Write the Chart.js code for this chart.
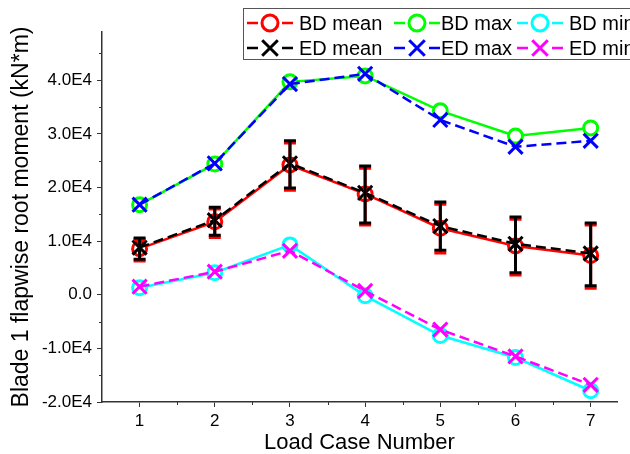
<!DOCTYPE html>
<html lang="en">
  <head>
    <meta charset="UTF-8" />
    <title>Blade 1 flapwise root moment</title>
    <script src="https://cdn.jsdelivr.net/npm/chart.js"></script>
    <style>
      html,
      body {
        margin: 0;
        padding: 0;
        background: #fff;
      }
    </style>
  </head>
  <body>
    <canvas id="chartCanvas" width="630" height="454"></canvas>

    <script>
      // load cases and series (kN*m)
      const cases = [1, 2, 3, 4, 5, 6, 7];

      const bdMean = [8600, 13600, 24200, 18800, 12400, 9100, 7300];
      const bdMax = [16800, 24400, 39700, 40800, 34300, 29600, 31100];
      const bdMin = [1300, 4100, 9300, -200, -7600, -11700, -17900];

      const edMean = [8800, 13900, 24500, 19000, 12800, 9500, 7700];
      const edMax = [16800, 24500, 39300, 41200, 32600, 27600, 28700];
      const edMin = [1500, 4300, 8200, 700, -6500, -11500, -16800];

      // error bar ends on the mean curves
      const bdErrLow = [6300, 10700, 19500, 13000, 7800, 3700, 1200];
      const bdErrHigh = [10300, 16000, 28300, 23600, 16900, 14100, 13000];
      const edErrLow = [6600, 11100, 19900, 13400, 8300, 4100, 1700];
      const edErrHigh = [10600, 16300, 28700, 24000, 17300, 14500, 13400];

      // tick positions
      const yTicks = [-20000, -10000, 0, 10000, 20000, 30000, 40000];
      const yMinorTicks = [-15000, -5000, 5000, 15000, 25000, 35000, 45000];
      const xMinorTicks = [1.5, 2.5, 3.5, 4.5, 5.5, 6.5];

      const FONT = "'Liberation Sans', Arial, sans-serif";
      Chart.defaults.font.family = FONT;
      Chart.defaults.color = "#000";

      function series(label, data, color, marker, dashed, order) {
        const isCircle = marker === "circle";
        return {
          label,
          data: cases.map((c, i) => ({ x: c, y: data[i] })),
          borderColor: color,
          borderWidth: 2.5,
          borderDash: dashed ? [10, 5] : [],
          pointStyle: marker,
          pointRadius: isCircle ? 7 : 10,
          pointBorderWidth: 3,
          pointBorderColor: color,
          pointBackgroundColor: "#fff",
          tension: 0,
          fill: false,
          order,
        };
      }

      // minor ticks on both axes
      const minorTicks = {
        id: "minorTicks",
        afterDraw(chart) {
          const { ctx, chartArea, scales } = chart;
          ctx.save();
          ctx.strokeStyle = "#333";
          ctx.lineWidth = 1;
          ctx.beginPath();
          xMinorTicks.forEach((v) => {
            const px = Math.round(scales.x.getPixelForValue(v)) + 0.5;
            ctx.moveTo(px, chartArea.bottom);
            ctx.lineTo(px, chartArea.bottom + 3);
          });
          yMinorTicks.forEach((v) => {
            const py = Math.round(scales.y.getPixelForValue(v)) + 0.5;
            ctx.moveTo(chartArea.left, py);
            ctx.lineTo(chartArea.left - 3, py);
          });
          ctx.stroke();
          ctx.restore();
        },
      };

      // vertical error bars on the two mean curves
      const errorBars = {
        id: "errorBars",
        afterDatasetsDraw(chart) {
          const { ctx, scales } = chart;
          ctx.save();
          ctx.lineWidth = 3;
          ctx.setLineDash([]);
          [
            [bdErrLow, bdErrHigh, "#ff0000"],
            [edErrLow, edErrHigh, "#000000"],
          ].forEach(([lo, hi, color]) => {
            ctx.strokeStyle = color;
            ctx.beginPath();
            cases.forEach((c, i) => {
              const px = scales.x.getPixelForValue(c);
              const top = scales.y.getPixelForValue(hi[i]);
              const bot = scales.y.getPixelForValue(lo[i]);
              ctx.moveTo(px, top);
              ctx.lineTo(px, bot);
              ctx.moveTo(px - 6, top);
              ctx.lineTo(px + 6, top);
              ctx.moveTo(px - 6, bot);
              ctx.lineTo(px + 6, bot);
            });
            ctx.stroke();
          });
          ctx.restore();
        },
      };

      // boxed legend, 3 columns x 2 rows, running off the right edge
      const legendBox = {
        id: "legendBox",
        afterDraw(chart) {
          const ctx = chart.ctx;
          const colX = [247, 394, 517];
          const textX = [299, 441, 569];
          const rowY = [23, 48];
          ctx.save();
          ctx.strokeStyle = "#555";
          ctx.lineWidth = 1;
          ctx.strokeRect(243.5, 8.5, 420, 51);
          chart.data.datasets.forEach((ds, i) => {
            const col = i % 3;
            const y = rowY[Math.floor(i / 3)];
            const x0 = colX[col];
            const cx = x0 + 23;
            ctx.strokeStyle = ds.borderColor;
            ctx.lineWidth = 2.5;
            ctx.setLineDash([]);
            ctx.beginPath();
            ctx.moveTo(x0, y);
            ctx.lineTo(x0 + 11, y);
            ctx.moveTo(cx + 12, y);
            ctx.lineTo(cx + 23, y);
            ctx.stroke();
            ctx.fillStyle = "#fff";
            ctx.lineWidth = 3;
            Chart.helpers.drawPoint(
              ctx,
              {
                pointStyle: ds.pointStyle,
                radius: ds.pointStyle === "circle" ? 8 : 11,
                borderWidth: 3,
                rotation: 0,
              },
              cx,
              y
            );
            ctx.fillStyle = "#000";
            ctx.font = "20px " + FONT;
            ctx.textBaseline = "middle";
            ctx.textAlign = "left";
            ctx.fillText(ds.label, textX[col], y + 1);
          });
          ctx.restore();
        },
      };

      new Chart(document.getElementById("chartCanvas"), {
        type: "line",
        data: {
          datasets: [
            series("BD mean", bdMean, "#ff0000", "circle", false, 2),
            series("BD max", bdMax, "#00ff00", "circle", false, 2),
            series("BD min", bdMin, "#00ffff", "circle", false, 2),
            series("ED mean", edMean, "#000000", "crossRot", true, 1),
            series("ED max", edMax, "#0000ff", "crossRot", true, 1),
            series("ED min", edMin, "#ff00ff", "crossRot", true, 1),
          ],
        },
        options: {
          responsive: false,
          animation: false,
          layout: { padding: { top: 32, right: 0, bottom: 0, left: 0 } },
          plugins: {
            legend: { display: false },
            tooltip: { enabled: false },
          },
          scales: {
            x: {
              type: "linear",
              min: 0.5,
              max: 7.35,
              afterBuildTicks: (s) => {
                s.ticks = cases.map((v) => ({ value: v }));
              },
              afterFit: (s) => {
                s.height = 52;
              },
              grid: {
                display: true,
                drawOnChartArea: false,
                tickLength: 5,
                color: "#333",
                lineWidth: 1,
              },
              border: { display: true, color: "#333", width: 1.5 },
              ticks: { font: { size: 17 }, padding: 4, color: "#000" },
              title: {
                display: true,
                text: "Load Case Number",
                font: { size: 22, lineHeight: 1 },
                padding: { top: 0, bottom: 0 },
                color: "#000",
              },
            },
            y: {
              type: "linear",
              min: -20000,
              max: 49000,
              afterBuildTicks: (s) => {
                s.ticks = yTicks.map((v) => ({ value: v }));
              },
              afterFit: (s) => {
                s.width = 102;
              },
              grid: {
                display: true,
                drawOnChartArea: false,
                tickLength: 5,
                color: "#333",
                lineWidth: 1,
              },
              border: { display: true, color: "#333", width: 1.5 },
              ticks: {
                font: { size: 17 },
                padding: 5,
                color: "#000",
                callback: (v) => (v === 0 ? "0.0" : (v / 10000).toFixed(1) + "E4"),
              },
              title: {
                display: true,
                text: "Blade 1 flapwise root moment (kN*m)",
                font: { size: 23, lineHeight: 1 },
                padding: { top: 10, bottom: 0 },
                color: "#000",
              },
            },
          },
        },
        plugins: [minorTicks, errorBars, legendBox],
      });
    </script>
  </body>
</html>
